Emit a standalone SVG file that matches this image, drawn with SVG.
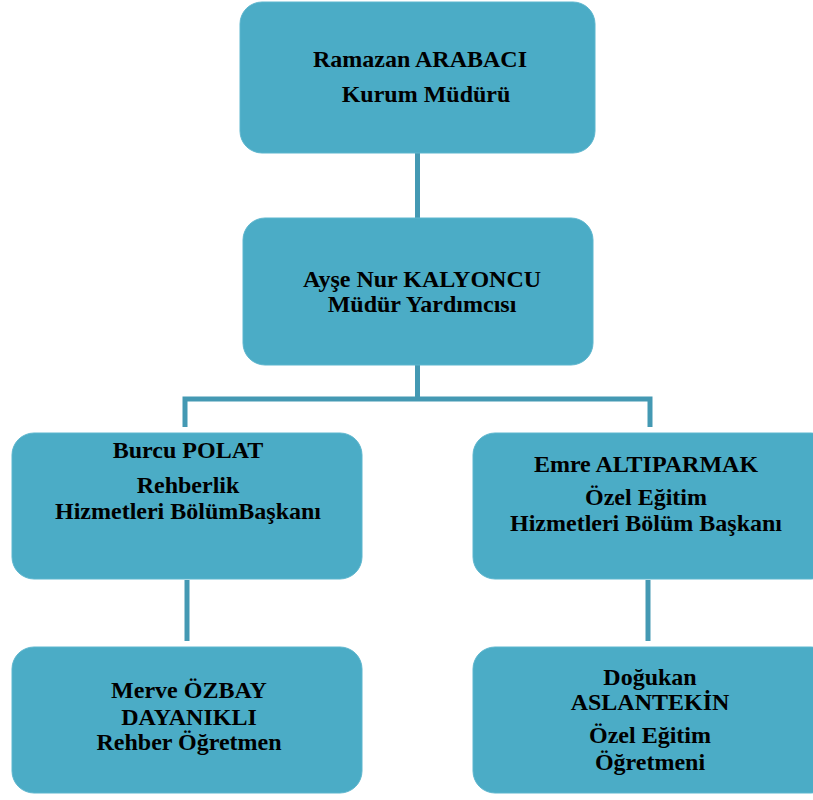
<svg xmlns="http://www.w3.org/2000/svg" width="813" height="800" viewBox="0 0 813 800">
<style>
.box{fill:#4BACC6;stroke:#5DB6CE;stroke-width:1}
.t{font-weight:bold;font-size:24px;fill:#000;text-anchor:middle}
.c{stroke:#4499B3;stroke-width:5;fill:none}
</style>
<rect width="813" height="800" fill="#fff"/>
<g id="connectors">
<line class="c" x1="417.5" y1="153" x2="417.5" y2="218"/>
<line class="c" x1="417.5" y1="365" x2="417.5" y2="399"/>
<polyline class="c" points="185,427 185,399 650,399 650,427"/>
<line class="c" x1="187" y1="580" x2="187" y2="641"/>
<line class="c" x1="648" y1="580" x2="648" y2="641"/>
</g>
<g font-family="Liberation Serif, DejaVu Serif, serif">
<g id="n1">
<rect class="box" x="240" y="2" width="355" height="151" rx="22"/>
<text class="t" x="420" y="67">Ramazan ARABACI</text>
<text class="t" x="426" y="102">Kurum Müdürü</text>
</g>
<g id="n2">
<rect class="box" x="243" y="218" width="350" height="147" rx="22"/>
<text class="t" x="422" y="287">Ayşe Nur KALYONCU</text>
<text class="t" x="422" y="312">Müdür Yardımcısı</text>
</g>
<g id="n3">
<rect class="box" x="12" y="433" width="350" height="146" rx="22"/>
<text class="t" x="188" y="458">Burcu POLAT</text>
<text class="t" x="188" y="493">Rehberlik</text>
<text class="t" x="188" y="519">Hizmetleri BölümBaşkanı</text>
</g>
<g id="n4">
<rect class="box" x="473" y="433" width="360" height="146" rx="22"/>
<text class="t" x="646" y="472">Emre ALTIPARMAK</text>
<text class="t" x="646" y="505">Özel Eğitim</text>
<text class="t" x="646" y="531">Hizmetleri Bölüm Başkanı</text>
</g>
<g id="n5">
<rect class="box" x="12" y="647" width="350" height="146" rx="22"/>
<text class="t" x="189" y="698">Merve ÖZBAY</text>
<text class="t" x="189" y="725">DAYANIKLI</text>
<text class="t" x="189" y="750">Rehber Öğretmen</text>
</g>
<g id="n6">
<rect class="box" x="473" y="647" width="360" height="146" rx="22"/>
<text class="t" x="650" y="685">Doğukan</text>
<text class="t" x="650" y="710">ASLANTEKİN</text>
<text class="t" x="650" y="743">Özel Eğitim</text>
<text class="t" x="650" y="770">Öğretmeni</text>
</g>
</g>
</svg>
